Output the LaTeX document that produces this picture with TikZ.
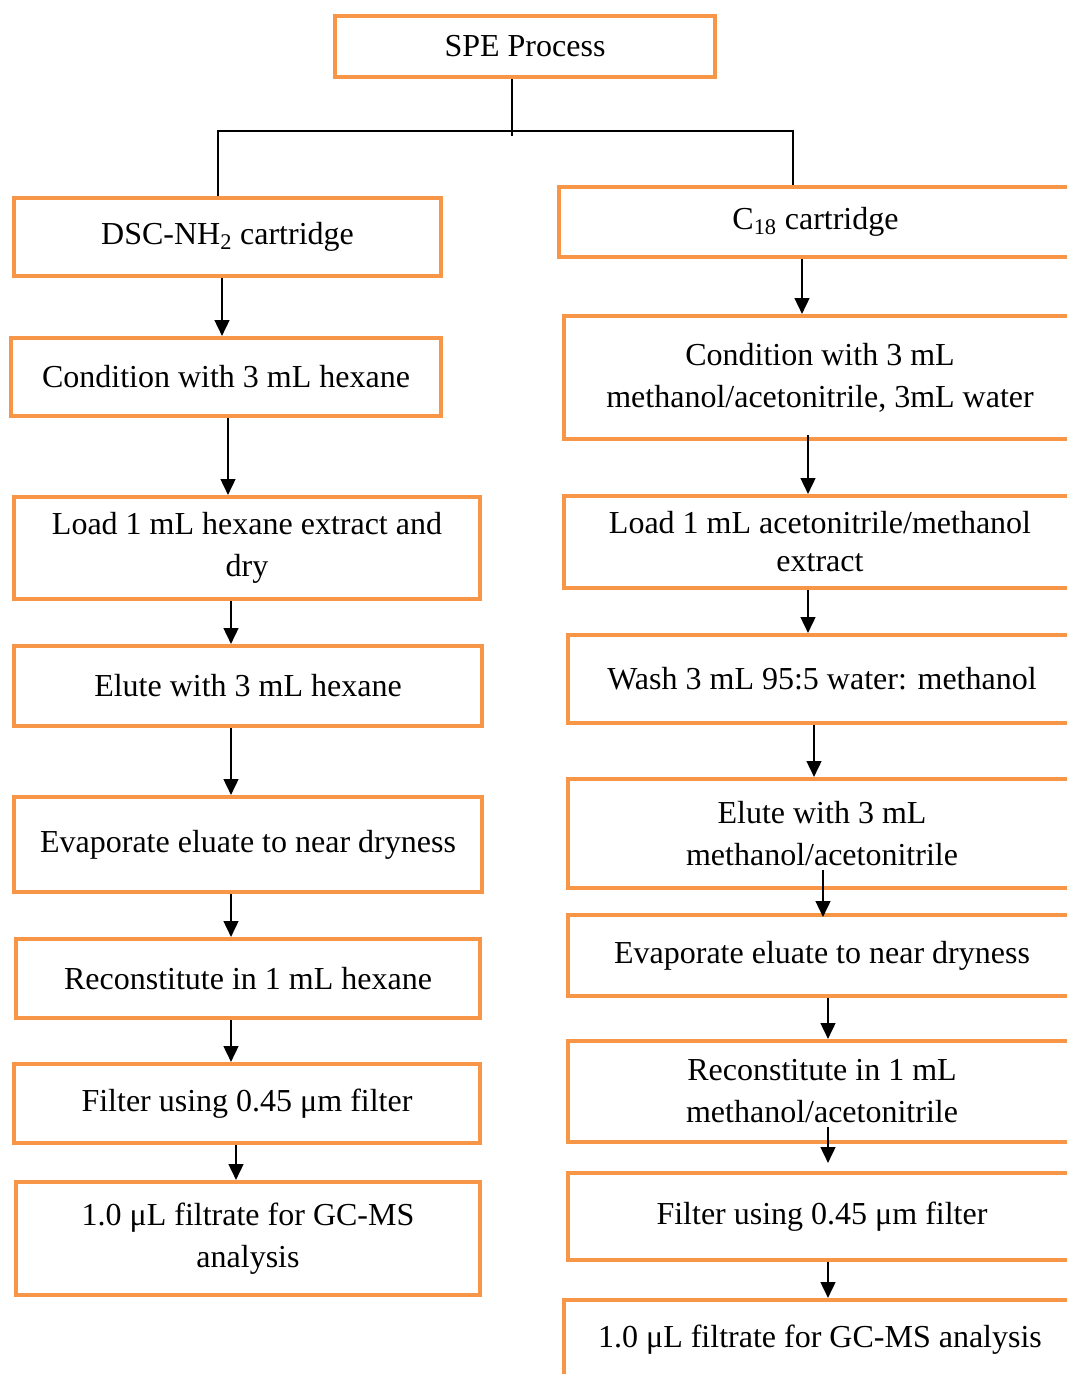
\documentclass[tikz,border=0pt]{standalone}
\usepackage{fontspec}
\setmainfont{Liberation Serif}
\usetikzlibrary{arrows.meta,fit,calc}
\definecolor{boxorange}{RGB}{247,150,70}

\begin{document}
\begin{tikzpicture}[x=0.75pt,y=0.75pt,yscale=-1,xscale=1,
	stepbox/.style={draw=boxorange,line width=3pt,inner sep=0pt},
	steptext/.style={align=center,inner sep=0pt,font=\fontsize{24}{31.5}\selectfont},
	flow/.style={line width=1.9pt,-{Triangle[width=11pt,length=12pt]}},
	tree/.style={line width=1.5pt}]
	\useasboundingbox (0,0) rectangle (1067,1374);
	
	%Shape: Rectangle [top]
	\node [stepbox, fit={(335,16) (715,77)}, label={[steptext]center:SPE Process}] (spe) {};
	
	%Shape: Rectangle [left column]
	\node [stepbox, fit={(14,198) (441,276)}, label={[steptext]center:DSC-NH\textsubscript{2} cartridge}] (l1) {};
	\node [stepbox, fit={(11,338) (441,416)}, label={[steptext]center:Condition with 3 mL hexane}] (l2) {};
	\node [stepbox, fit={(14,497) (480,599)}, label={[steptext]center:{Load 1 mL hexane extract and\\ dry}}] (l3) {};
	\node [stepbox, fit={(14,646) (482,726)}, label={[steptext]center:Elute with 3 mL hexane}] (l4) {};
	\node [stepbox, fit={(14,797) (482,892)}, label={[steptext]center:Evaporate eluate to near dryness}] (l5) {};
	\node [stepbox, fit={(16,939) (480,1018)}, label={[steptext]center:Reconstitute in 1 mL hexane}] (l6) {};
	\node [stepbox, fit={(14,1064) (480,1143)}, label={[steptext]center:Filter using 0.45 μm filter}] (l7) {};
	\node [stepbox, fit={(16,1182) (480,1295)}, label={[steptext]center:{1.0 μL filtrate for GC-MS\\ analysis}}] (l8) {};
	
	%Shape: Rectangle [right column]
	\node [stepbox, fit={(559,187) (1072,257)}, label={[steptext]center:C\textsubscript{18} cartridge}] (r1) {};
	\node [stepbox, fit={(564,316) (1076,439)}, label={[steptext]center:{Condition with 3 mL\\ methanol/acetonitrile, 3mL water}}] (r2) {};
	\node [stepbox, fit={(564,496) (1076,588)}, label={[steptext,font=\fontsize{24}{28.5}\selectfont]center:{Load 1 mL acetonitrile/methanol\\ extract}}] (r3) {};
	\node [stepbox, fit={(568,635) (1076,723)}, label={[steptext]center:Wash 3 mL 95:5 water: methanol}] (r4) {};
	\node [stepbox, fit={(568,779) (1076,888)}, label={[steptext]center:{Elute with 3 mL\\ methanol/acetonitrile}}] (r5) {};
	\node [stepbox, fit={(568,915) (1076,996)}, label={[steptext]center:Evaporate eluate to near dryness}] (r6) {};
	\node [stepbox, fit={(568,1041) (1076,1142)}, label={[steptext]center:{Reconstitute in 1 mL\\ methanol/acetonitrile}}] (r7) {};
	\node [stepbox, fit={(568,1173) (1076,1260)}, label={[steptext]center:Filter using 0.45 μm filter}] (r8) {};
	\node [stepbox, fit={(564,1300) (1076,1380)}, label={[steptext]center:1.0 μL filtrate for GC-MS analysis}] (r9) {};
	
	%Straight Lines [split]
	\coordinate (split) at (512,136);
	\coordinate (lcorner) at (218,131);
	\coordinate (rcorner) at (793,131);
	\draw [tree] (spe.south -| split) -- (split);
	\draw [tree] (l1.north -| lcorner) -- (lcorner) -- (rcorner) -- (r1.north -| rcorner);
	
	%Straight Lines [left arrows]
	\draw [flow] (l1.south -| 222,0) -- (l2.north -| 222,0);
	\draw [flow] (l2.south -| 228,0) -- (l3.north -| 228,0);
	\draw [flow] (l3.south -| 231,0) -- (l4.north -| 231,0);
	\draw [flow] (l4.south -| 231,0) -- (l5.north -| 231,0);
	\draw [flow] (l5.south -| 231,0) -- (l6.north -| 231,0);
	\draw [flow] (l6.south -| 231,0) -- (l7.north -| 231,0);
	\draw [flow] (l7.south -| 236,0) -- (l8.north -| 236,0);
	
	%Straight Lines [right arrows]
	\draw [flow] (r1.south -| 802,0) -- (r2.north -| 802,0);
	\draw [flow] ($(r2.south -| 808,0)+(0,-6)$) -- (r3.north -| 808,0);
	\draw [flow] (r3.south -| 808,0) -- (r4.north -| 808,0);
	\draw [flow] (r4.south -| 814,0) -- (r5.north -| 814,0);
	\draw [flow] ($(r5.south -| 823,0)+(0,-20)$) -- ($(r6.north -| 823,0)+(0,4)$);
	\draw [flow] (r6.south -| 828,0) -- (r7.north -| 828,0);
	\draw [flow] ($(r7.south -| 828,0)+(0,-17)$) -- ($(r8.north -| 828,0)+(0,-8)$);
	\draw [flow] (r8.south -| 828,0) -- (r9.north -| 828,0);
	
\end{tikzpicture}
\end{document}
